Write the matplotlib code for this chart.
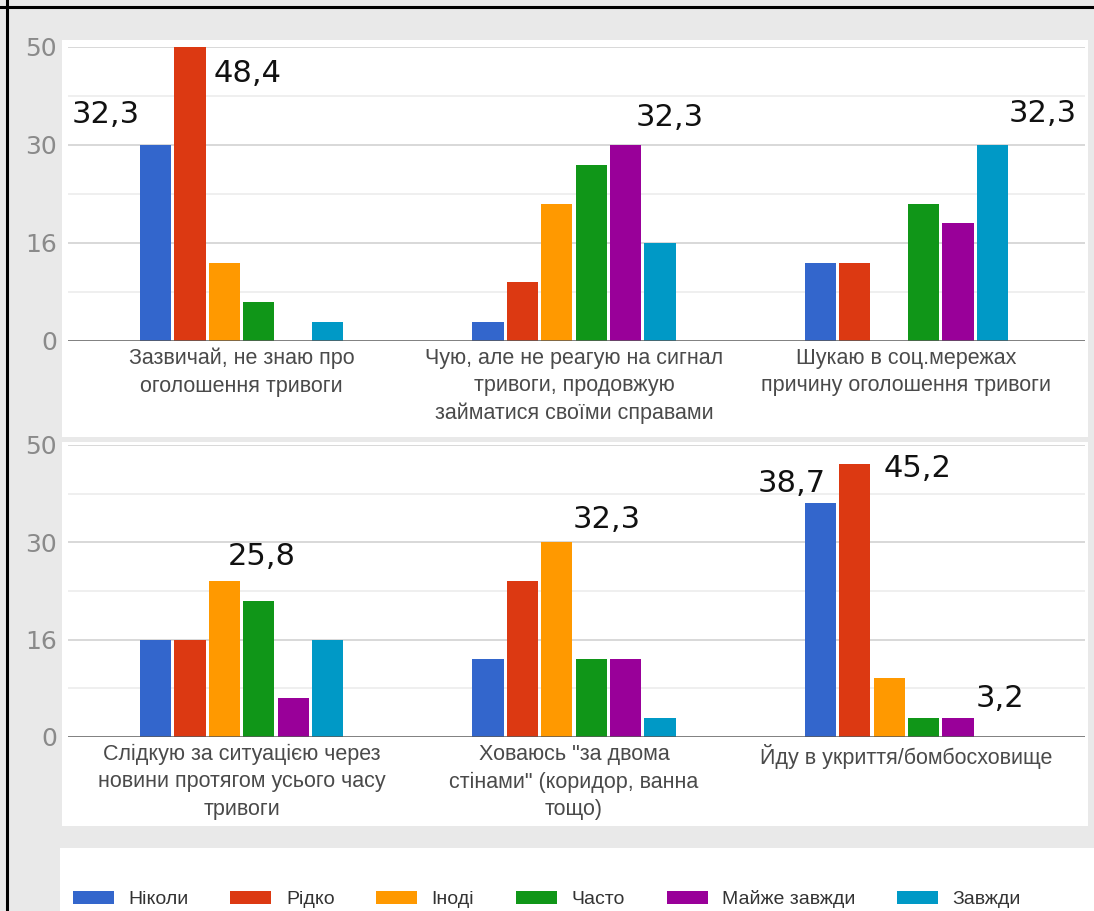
import matplotlib
matplotlib.use("Agg")
import matplotlib.pyplot as plt
from matplotlib.patches import Rectangle, Patch
from matplotlib.lines import Line2D
import numpy as np

# ---------------- data ----------------
series_names = ["Ніколи", "Рідко", "Іноді", "Часто", "Майже завжди", "Завжди"]
series_colors = ["#3366cc", "#dc3912", "#ff9900", "#109618", "#990099", "#0099c6"]

top_categories = [
    "Зазвичай, не знаю про\nоголошення тривоги",
    "Чую, але не реагую на сигнал\nтривоги, продовжую\nзайматися своїми справами",
    "Шукаю в соц.мережах\nпричину оголошення тривоги",
]
bottom_categories = [
    "Слідкую за ситуацією через\nновини протягом усього часу\nтривоги",
    "Ховаюсь \"за двома\nстінами\" (коридор, ванна\nтощо)",
    "Йду в укриття/бомбосховище",
]

# values per series, one entry per category
top_nikoly = [32.3, 3.2, 12.9]
top_ridko = [48.4, 9.7, 12.9]
top_inodi = [12.9, 22.6, 0.0]
top_chasto = [6.5, 29.0, 22.6]
top_mayzhe = [0.0, 32.3, 19.4]
top_zavzhdy = [3.2, 16.1, 32.3]

bottom_nikoly = [16.1, 12.9, 38.7]
bottom_ridko = [16.1, 25.8, 45.2]
bottom_inodi = [25.8, 32.3, 9.7]
bottom_chasto = [22.6, 12.9, 3.2]
bottom_mayzhe = [6.5, 12.9, 3.2]
bottom_zavzhdy = [16.1, 3.2, 0.0]

# y-axis ticks (gridline values) and their printed labels
ytick_values = [0, 16.13, 32.26, 48.39]
ytick_labels = ["0", "16", "30", "50"]
yminor_values = [8.06, 24.19, 40.32]

# labelled bars: (category index, series index) and text offset in pixels
top_labels = [(0, 0, -50, 30), (0, 1, 58, -27), (1, 4, 44, 27), (2, 5, 50, 31)]
bottom_labels = [(0, 2, 37, 25), (1, 2, 50, 23), (2, 0, -29, 20), (2, 1, 63, -4), (2, 4, 42, 19)]

# ---------------- figure ----------------
W, H = 1094, 911
fig = plt.figure(figsize=(W / 100, H / 100), dpi=100)
fig.patch.set_facecolor("#e9e9e9")


def fx(x):
    return x / W


def fy(y):
    return 1 - y / H


def panel(x0, y0, x1, y1):
    fig.add_artist(Rectangle((fx(x0), fy(y1)), fx(x1) - fx(x0), fy(y0) - fy(y1),
                             transform=fig.transFigure, facecolor="white",
                             edgecolor="none", zorder=0))


panel(62, 40, 1088, 437)
panel(62, 442, 1088, 826)
panel(60, 848, 1094, 911)

# black frame lines (left and top)
fig.add_artist(Line2D([fx(7), fx(7)], [0, 1], transform=fig.transFigure, color="black", lw=2.2))
fig.add_artist(Line2D([0, 1], [fy(7), fy(7)], transform=fig.transFigure, color="black", lw=2.2))

ax_left, ax_right = 68, 1085
xlim = (-0.522, 2.537)
slot = 0.1035
bar_w = 0.094


def make_axes(base_y, top_y, categories, series, labels):
    ax = fig.add_axes([fx(ax_left), fy(base_y), fx(ax_right) - fx(ax_left), fy(top_y) - fy(base_y)])
    ax.set_facecolor("none")
    ax.set_xlim(*xlim)
    ax.set_ylim(0, ytick_values[-1])
    for s in ax.spines.values():
        s.set_visible(False)
    for v in ytick_values[1:]:
        ax.axhline(v, color="#d6d6d6", lw=1.3, zorder=0.5)
    for v in yminor_values:
        ax.axhline(v, color="#ebebeb", lw=1.1, zorder=0.5)
    ax.axhline(0, color="#5a5a5a", lw=1.8, zorder=3)
    x = np.arange(len(categories))
    for i, (vals, col) in enumerate(zip(series, series_colors)):
        ax.bar(x + (i - 2.5) * slot, vals, width=bar_w, color=col, zorder=2)
    ax.set_yticks(ytick_values, ytick_labels)
    ax.tick_params(axis="y", length=0, pad=8, labelsize=18, labelcolor="#8a8a8a")
    for t in ax.get_yticklabels():
        t.set_family("DejaVu Sans")
    ax.set_xticks(x, categories)
    ax.tick_params(axis="x", length=0, pad=5, labelsize=15.5, labelcolor="#4a4a4a")
    for t in ax.get_xticklabels():
        t.set_family("Liberation Sans")
        t.set_linespacing(1.4)
    for (ci, si, dx, dy) in labels:
        v = series[si][ci]
        txt = f"{v:.1f}".replace(".", ",")
        ax.annotate(txt, xy=(x[ci] + (si - 2.5) * slot, v), xytext=(dx, dy),
                    textcoords="offset pixels", ha="center", va="center",
                    fontsize=22, family="DejaVu Sans", color="#111111",
                    annotation_clip=False, zorder=5)
    return ax


make_axes(341, 47, top_categories,
          [top_nikoly, top_ridko, top_inodi, top_chasto, top_mayzhe, top_zavzhdy], top_labels)
make_axes(737, 445, bottom_categories,
          [bottom_nikoly, bottom_ridko, bottom_inodi, bottom_chasto, bottom_mayzhe, bottom_zavzhdy],
          bottom_labels)

handles = [Patch(facecolor=c, edgecolor="none") for c in series_colors]
leg = fig.legend(handles, series_names, loc="center left", bbox_to_anchor=(fx(73), fy(899)),
                 ncol=6, frameon=False, fontsize=14, handlelength=2.1, handleheight=0.65,
                 handletextpad=0.75, columnspacing=2.15, borderaxespad=0, borderpad=0)
for t in leg.get_texts():
    t.set_color("#333333")
    t.set_family("Liberation Sans")

fig.savefig("out.png", dpi=100, facecolor=fig.get_facecolor())
